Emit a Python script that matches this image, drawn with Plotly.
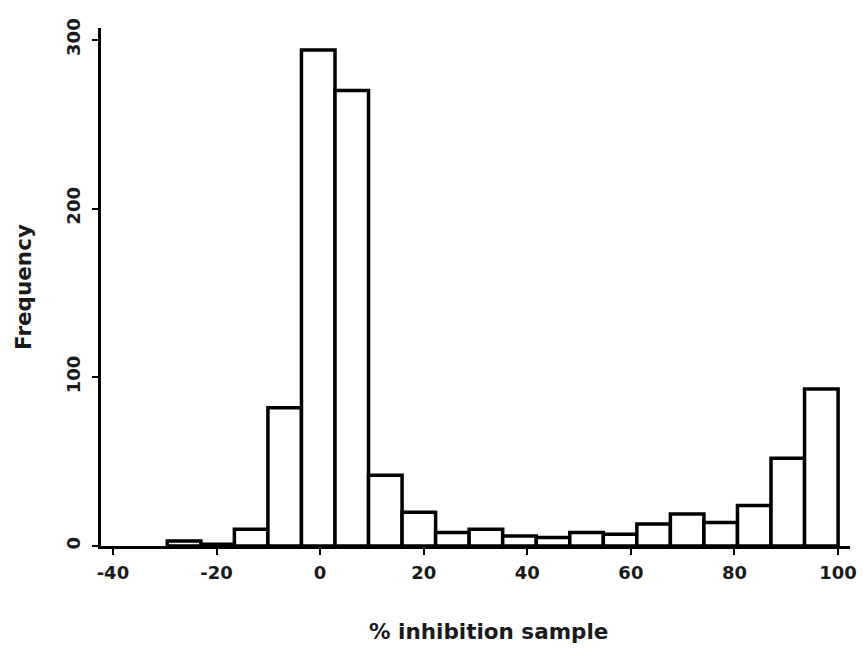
import plotly.graph_objects as go

# Histogram of % inhibition: 20 equal-width bins from -29.5 to 100
bin_edges = [-29.5 + 6.475 * i for i in range(21)]
counts = [3, 1, 10, 82, 294, 270, 42, 20, 8, 10, 6, 5, 8, 7, 13, 19, 14, 24, 52, 93]

x_ticks = [-40, -20, 0, 20, 40, 60, 80, 100]
y_ticks = [0, 100, 200, 300]

x_title = "% inhibition sample"
y_title = "Frequency"

centers = [(a + b) / 2 for a, b in zip(bin_edges[:-1], bin_edges[1:])]
widths = [b - a for a, b in zip(bin_edges[:-1], bin_edges[1:])]

font_family = "DejaVu Sans, Verdana, sans-serif"
text_color = "#1a1a1a"

fig = go.Figure(
    go.Bar(
        x=centers,
        y=counts,
        width=widths,
        marker=dict(color="white", line=dict(color="black", width=3.5)),
        hoverinfo="x+y",
    )
)

fig.update_layout(
    width=866,
    height=648,
    paper_bgcolor="white",
    plot_bgcolor="white",
    margin=dict(l=101, r=16, t=28, b=102),
    showlegend=False,
    font=dict(family=font_family, color=text_color),
)

fig.update_xaxes(
    range=[-42.3, 102.3],
    tickvals=x_ticks,
    ticktext=[str(v) for v in x_ticks],
    ticks="outside",
    ticklen=6,
    tickwidth=2,
    tickcolor="black",
    showline=True,
    linecolor="black",
    linewidth=3,
    showgrid=False,
    zeroline=False,
    automargin=False,
    tickfont=dict(size=18, family=font_family, weight="bold"),
    ticklabelstandoff=2,
)

fig.update_yaxes(
    range=[0, 307],
    tickvals=y_ticks,
    ticktext=[str(v) for v in y_ticks],
    tickangle=-90,
    ticks="outside",
    ticklen=6,
    tickwidth=2,
    tickcolor="black",
    showline=True,
    linecolor="black",
    linewidth=2.5,
    showgrid=False,
    zeroline=False,
    automargin=False,
    tickfont=dict(size=18, family=font_family, weight="bold"),
    ticklabelstandoff=5,
    title=dict(text=f"<b>{y_title}</b>", font=dict(size=21.5), standoff=26),
)

# x-axis title, placed slightly right of the plot centre
fig.add_annotation(
    text=f"<b>{x_title}</b>",
    xref="paper",
    yref="paper",
    x=0.517,
    y=-0.165,
    xanchor="center",
    yanchor="middle",
    showarrow=False,
    font=dict(size=21.5, family=font_family, color=text_color),
)

fig.write_html("out.html")
